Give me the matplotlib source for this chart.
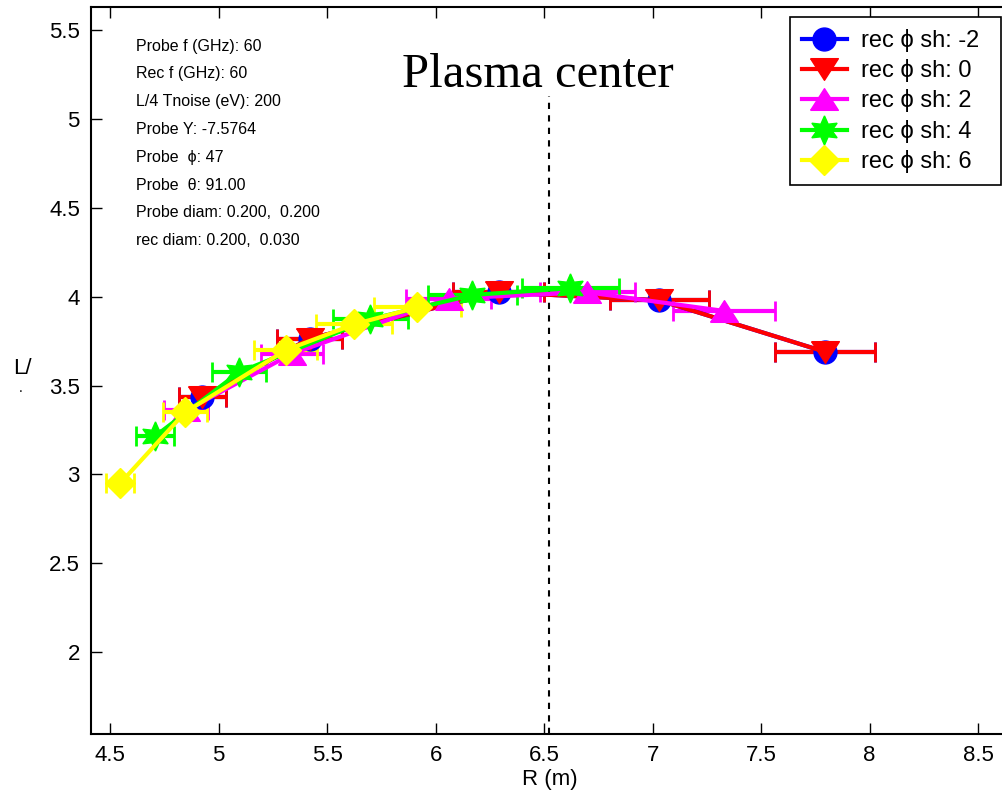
import matplotlib
matplotlib.use("Agg")
import matplotlib.pyplot as plt
from matplotlib.lines import Line2D

# Ray-tracing results: cutoff location vs. L/lambda for several receiver phi shifts
r_sh_m2 = [4.925, 5.42, 6.29, 7.03, 7.795]
l_sh_m2 = [3.435, 3.765, 4.025, 3.98, 3.69]
dr_sh_m2 = [0.108, 0.15, 0.21, 0.228, 0.23]

r_sh_0 = [4.925, 5.42, 6.29, 7.03, 7.795]
l_sh_0 = [3.435, 3.765, 4.025, 3.98, 3.69]
dr_sh_0 = [0.108, 0.15, 0.21, 0.228, 0.23]

r_sh_2 = [4.85, 5.34, 6.06, 6.70, 7.33]
l_sh_2 = [3.36, 3.68, 3.99, 4.025, 3.92]
dr_sh_2 = [0.10, 0.143, 0.196, 0.221, 0.235]

r_sh_4 = [4.707, 5.094, 5.70, 6.17, 6.62]
l_sh_4 = [3.215, 3.575, 3.874, 4.01, 4.048]
dr_sh_4 = [0.088, 0.124, 0.173, 0.207, 0.224]

r_sh_6 = [4.546, 4.846, 5.31, 5.625, 5.915]
l_sh_6 = [2.95, 3.35, 3.70, 3.845, 3.94]
dr_sh_6 = [0.065, 0.10, 0.145, 0.175, 0.20]

series_labels = ["rec \u03d5 sh: -2", "rec \u03d5 sh: 0", "rec \u03d5 sh: 2",
                 "rec \u03d5 sh: 4", "rec \u03d5 sh: 6"]
plasma_center_r = 6.523

info_lines = [
    "Probe f (GHz): 60",
    "Rec f (GHz): 60",
    "L/4 Tnoise (eV): 200",
    "Probe Y: -7.5764",
    "Probe  \u03d5: 47",
    "Probe  \u03b8: 91.00",
    "Probe diam: 0.200,  0.200",
    "rec diam: 0.200,  0.030",
]

x_ticks = [4.5, 5, 5.5, 6, 6.5, 7, 7.5, 8, 8.5]
y_ticks = [2, 2.5, 3, 3.5, 4, 4.5, 5, 5.5]

plt.rcParams["font.family"] = ["Liberation Sans", "DejaVu Sans"]

W, H = 1003, 798
fig = plt.figure(figsize=(W / 100, H / 100), dpi=100)
ax = fig.add_axes([91 / W, 1 - 734 / H, (1008 - 91) / W, (734 - 7) / H])

# wide, flat triangles and a six-pointed star
tri_down = [(-1, 0.78), (1, 0.78), (0, -0.78), (-1, 0.78)]
tri_up = [(-1, -0.78), (1, -0.78), (0, 0.78), (-1, -0.78)]
star6 = (6, 1, 0)

styles = [
    (r_sh_m2, l_sh_m2, dr_sh_m2, "o", "#0000FF", 16.5),
    (r_sh_0, l_sh_0, dr_sh_0, tri_down, "#FF0000", 20),
    (r_sh_2, l_sh_2, dr_sh_2, tri_up, "#FF00FF", 20),
    (r_sh_4, l_sh_4, dr_sh_4, star6, "#00FF00", 21),
    (r_sh_6, l_sh_6, dr_sh_6, "D", "#FFFF00", 15),
]

handles = []
for (r, l, dr, mk, col, ms), lab in zip(styles, series_labels):
    ax.errorbar(r, l, xerr=dr, fmt="-", marker=mk, color=col, ecolor=col,
                mfc=col, mec=col, ms=ms, lw=3, elinewidth=3,
                capsize=7, capthick=2)
    handles.append(Line2D([], [], color=col, lw=3, marker=mk, ms=ms,
                          mfc=col, mec=col))

ax.axvline(plasma_center_r, ymin=0, ymax=(5.13 - 1.54) / (5.63 - 1.54),
           color="black", ls=(0, (3, 3)), lw=1.5)
ax.text(plasma_center_r - 0.05, 5.245, "Plasma center", ha="center", va="center",
        fontsize=35, family=["Liberation Serif", "DejaVu Serif"])

for i, s in enumerate(info_lines):
    ax.text(136 / W, 1 - (46 + 27.8 * i) / H, s, transform=fig.transFigure,
            fontsize=11.5, ha="left", va="center")

ax.set_xlim(4.412, 8.638)
ax.set_ylim(1.54, 5.63)
ax.set_xticks(x_ticks)
ax.set_xticklabels([f"{t:g}" for t in x_ticks])
ax.set_yticks(y_ticks)
ax.set_yticklabels([f"{t:g}" for t in y_ticks])
ax.tick_params(direction="in", length=8, width=1, labelsize=16, top=True,
               right=False, pad=8)
for sp in ax.spines.values():
    sp.set_linewidth(1.5)

ax.set_xlabel("R (m)", fontsize=16, labelpad=2)
fig.text(22 / W, 1 - 369 / H, "L/", fontsize=16, ha="center", va="center")
fig.text(21 / W, 1 - 388 / H, ".", fontsize=10, ha="center", va="center")

leg = fig.legend(handles=handles, labels=series_labels, loc="upper left",
                 bbox_to_anchor=(790 / W, 1 - 181 / H, 211 / W, 164 / H),
                 mode="expand", borderaxespad=0,
                 fontsize=17, frameon=True, fancybox=False, framealpha=1,
                 edgecolor="black", handlelength=1.9, handletextpad=0.6,
                 labelspacing=0.31, borderpad=0.5)
leg.get_frame().set_linewidth(1.2)

fig.savefig("out.png", dpi=100)
